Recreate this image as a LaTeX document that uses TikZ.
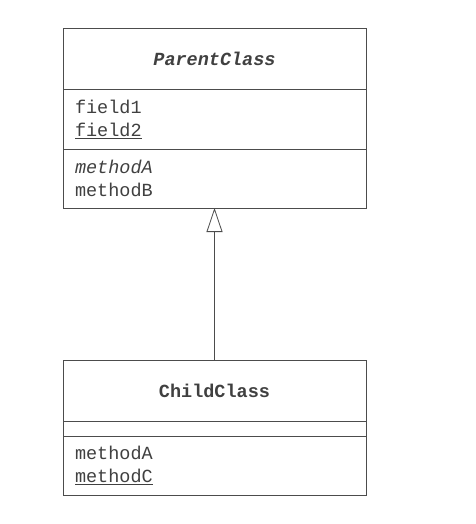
\documentclass[tikz,border=0pt]{standalone}
\usepackage{fontspec}
\newfontfamily\umlfont{Liberation Mono}
\usetikzlibrary{positioning, arrows.meta}

\begin{document}
\begin{tikzpicture}[x=1pt, y=1pt,
    compartment/.style={rectangle, draw=black!70, line width=0.8pt, outer sep=0pt, inner xsep=12pt, inner ysep=4pt,
        text width=279pt, minimum width=303pt, text=black!75, font=\umlfont\fontsize{18.5}{23}\selectfont},
    titlepart/.style={compartment, align=center, minimum height=61pt},
    listpart/.style={compartment, align=left, minimum height=60pt}]
    \useasboundingbox (0,0) rectangle (475,-524);
    % Define nodes
    \node (parenttitle) [titlepart] at (214.5,-58.5) {\textbf{\textit{ParentClass}}};
    \node (parentfields) [listpart, below=0pt of parenttitle] {field1\\\underline{field2}};
    \node (parentmethods) [listpart, below=0pt of parentfields, minimum height=59pt] {\textit{methodA}\\methodB};
    \node (childtitle) [titlepart] at (214.5,-390.5) {\textbf{ChildClass}};
    \node (childfields) [compartment, below=0pt of childtitle, minimum height=15pt, inner ysep=0pt] {};
    \node (childmethods) [listpart, below=0pt of childfields, minimum height=59pt] {methodA\\\underline{methodC}};

    % Draw arrows
    \draw[draw=black!70, line width=0.8pt, -{Triangle[open, length=24pt, width=16pt]}] (childtitle) -- (parentmethods);
\end{tikzpicture}
\end{document}
